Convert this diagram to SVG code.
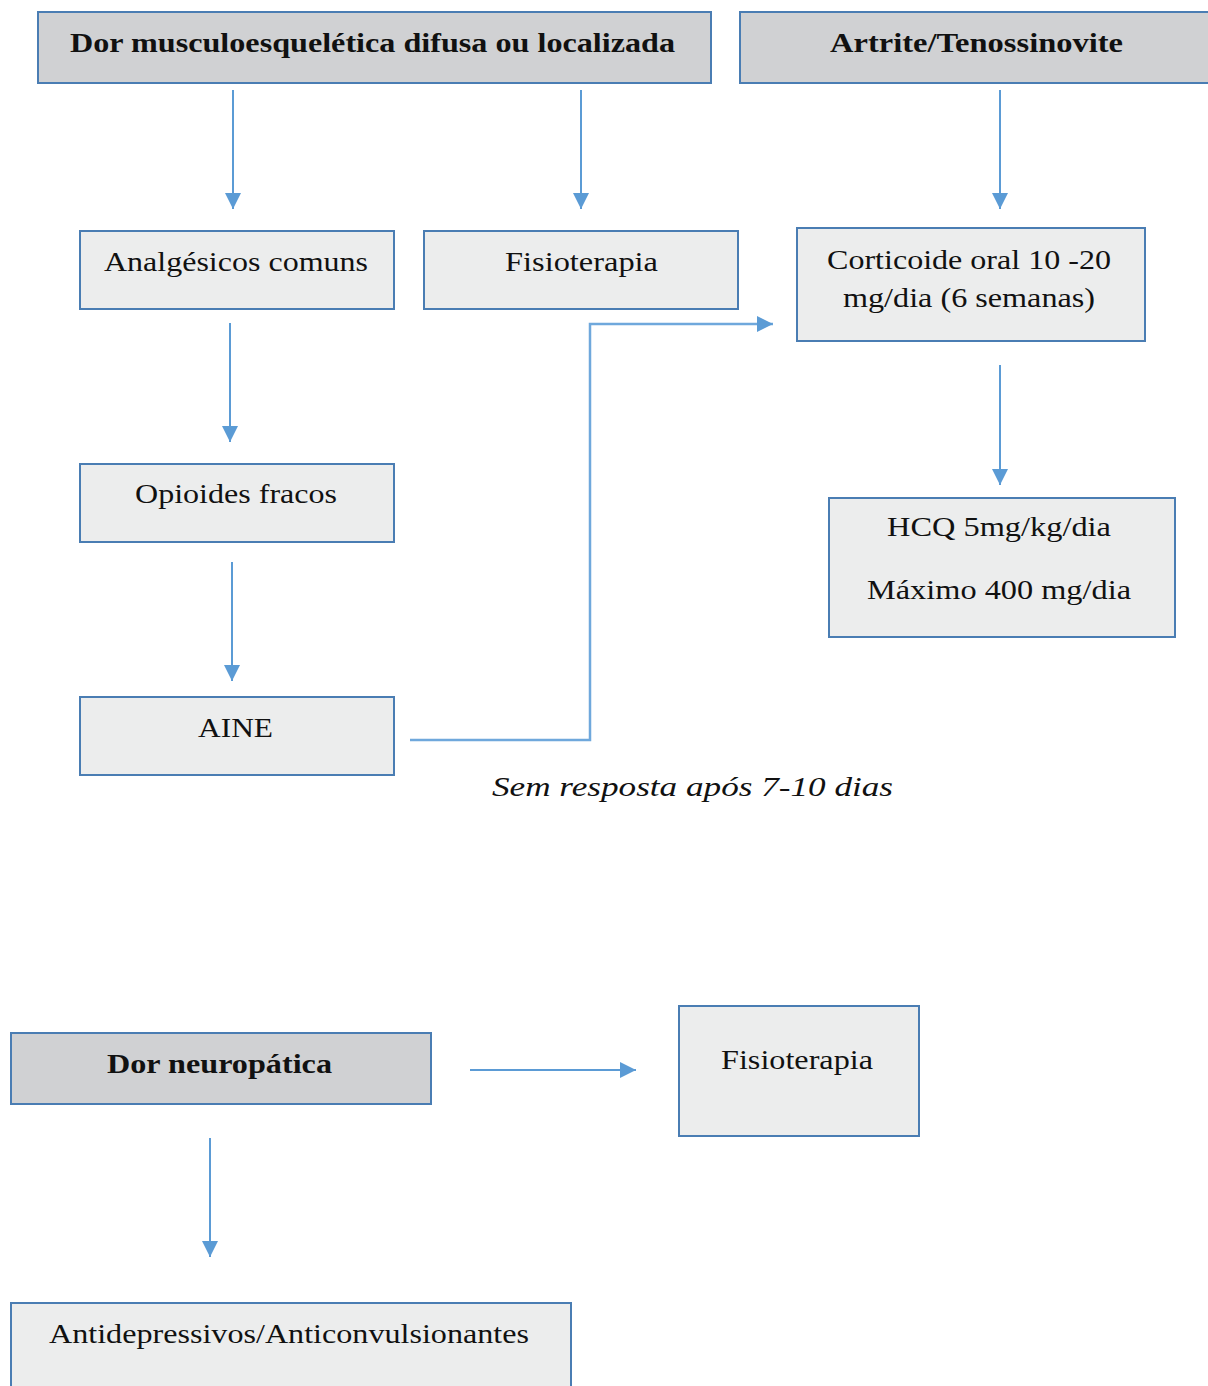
<svg xmlns="http://www.w3.org/2000/svg" width="1208" height="1386" viewBox="0 0 1208 1386">
<style>
.hdr{fill:#d0d1d3;stroke:#4a7db3;stroke-width:2}
.box{fill:#eceded;stroke:#4a7db3;stroke-width:2}
text{font-family:"Liberation Serif","Times New Roman",serif;font-size:28px;fill:#111;text-anchor:middle}
.b{font-weight:bold}
.i{font-style:italic}
.c{fill:none;stroke:#5b9bd5;stroke-width:2}
.e{fill:none;stroke:#6fa8dc;stroke-width:2.5}
</style>
<defs>
<marker id="ah" markerUnits="userSpaceOnUse" markerWidth="18" markerHeight="16" refX="16" refY="8" orient="auto">
<path d="M0,0 L16,8 L0,16 z" fill="#5b9bd5"/>
</marker>
</defs>
<rect width="1208" height="1386" fill="#fff"/>
<g id="connectors">
<line class="c" x1="233" y1="90" x2="233" y2="209" marker-end="url(#ah)"/>
<line class="c" x1="581" y1="90" x2="581" y2="209" marker-end="url(#ah)"/>
<line class="c" x1="1000" y1="90" x2="1000" y2="209" marker-end="url(#ah)"/>
<line class="c" x1="230" y1="323" x2="230" y2="442" marker-end="url(#ah)"/>
<line class="c" x1="232" y1="562" x2="232" y2="681" marker-end="url(#ah)"/>
<line class="c" x1="1000" y1="365" x2="1000" y2="485" marker-end="url(#ah)"/>
<polyline class="e" points="410,740 590,740 590,324 773,324" marker-end="url(#ah)"/>
<line class="c" x1="470" y1="1070" x2="636" y2="1070" marker-end="url(#ah)"/>
<line class="c" x1="210" y1="1138" x2="210" y2="1257" marker-end="url(#ah)"/>
</g>
<g id="n-dor-musculo"><rect class="hdr" x="38" y="12" width="673" height="71"/><text class="b" x="372.5" y="52" textLength="605" lengthAdjust="spacingAndGlyphs">Dor musculoesquelética difusa ou localizada</text></g>
<g id="n-artrite"><rect class="hdr" x="740" y="12" width="475" height="71"/><text class="b" x="976.5" y="52" textLength="293" lengthAdjust="spacingAndGlyphs">Artrite/Tenossinovite</text></g>
<g id="n-analgesicos"><rect class="box" x="80" y="231" width="314" height="78"/><text x="236" y="271" textLength="264" lengthAdjust="spacingAndGlyphs">Analgésicos comuns</text></g>
<g id="n-fisio1"><rect class="box" x="424" y="231" width="314" height="78"/><text x="581.5" y="271" textLength="153" lengthAdjust="spacingAndGlyphs">Fisioterapia</text></g>
<g id="n-corticoide"><rect class="box" x="797" y="228" width="348" height="113"/><text x="969" y="269" textLength="284" lengthAdjust="spacingAndGlyphs">Corticoide oral 10 -20</text><text x="969" y="307" textLength="252" lengthAdjust="spacingAndGlyphs">mg/dia (6 semanas)</text></g>
<g id="n-opioides"><rect class="box" x="80" y="464" width="314" height="78"/><text x="236" y="503" textLength="202" lengthAdjust="spacingAndGlyphs">Opioides fracos</text></g>
<g id="n-hcq"><rect class="box" x="829" y="498" width="346" height="139"/><text x="999" y="536" textLength="224" lengthAdjust="spacingAndGlyphs">HCQ 5mg/kg/dia</text><text x="999" y="599" textLength="264" lengthAdjust="spacingAndGlyphs">Máximo 400 mg/dia</text></g>
<g id="n-aine"><rect class="box" x="80" y="697" width="314" height="78"/><text x="235.5" y="737" textLength="75" lengthAdjust="spacingAndGlyphs">AINE</text></g>
<g id="label-sem-resposta"><text class="i" x="692.5" y="796" textLength="401" lengthAdjust="spacingAndGlyphs">Sem resposta após 7-10 dias</text></g>
<g id="n-dor-neuro"><rect class="hdr" x="11" y="1033" width="420" height="71"/><text class="b" x="219.5" y="1073" textLength="225" lengthAdjust="spacingAndGlyphs">Dor neuropática</text></g>
<g id="n-fisio2"><rect class="box" x="679" y="1006" width="240" height="130"/><text x="797" y="1069" textLength="152" lengthAdjust="spacingAndGlyphs">Fisioterapia</text></g>
<g id="n-antidep"><rect class="box" x="11" y="1303" width="560" height="100"/><text x="289" y="1343" textLength="480" lengthAdjust="spacingAndGlyphs">Antidepressivos/Anticonvulsionantes</text></g>
</svg>
